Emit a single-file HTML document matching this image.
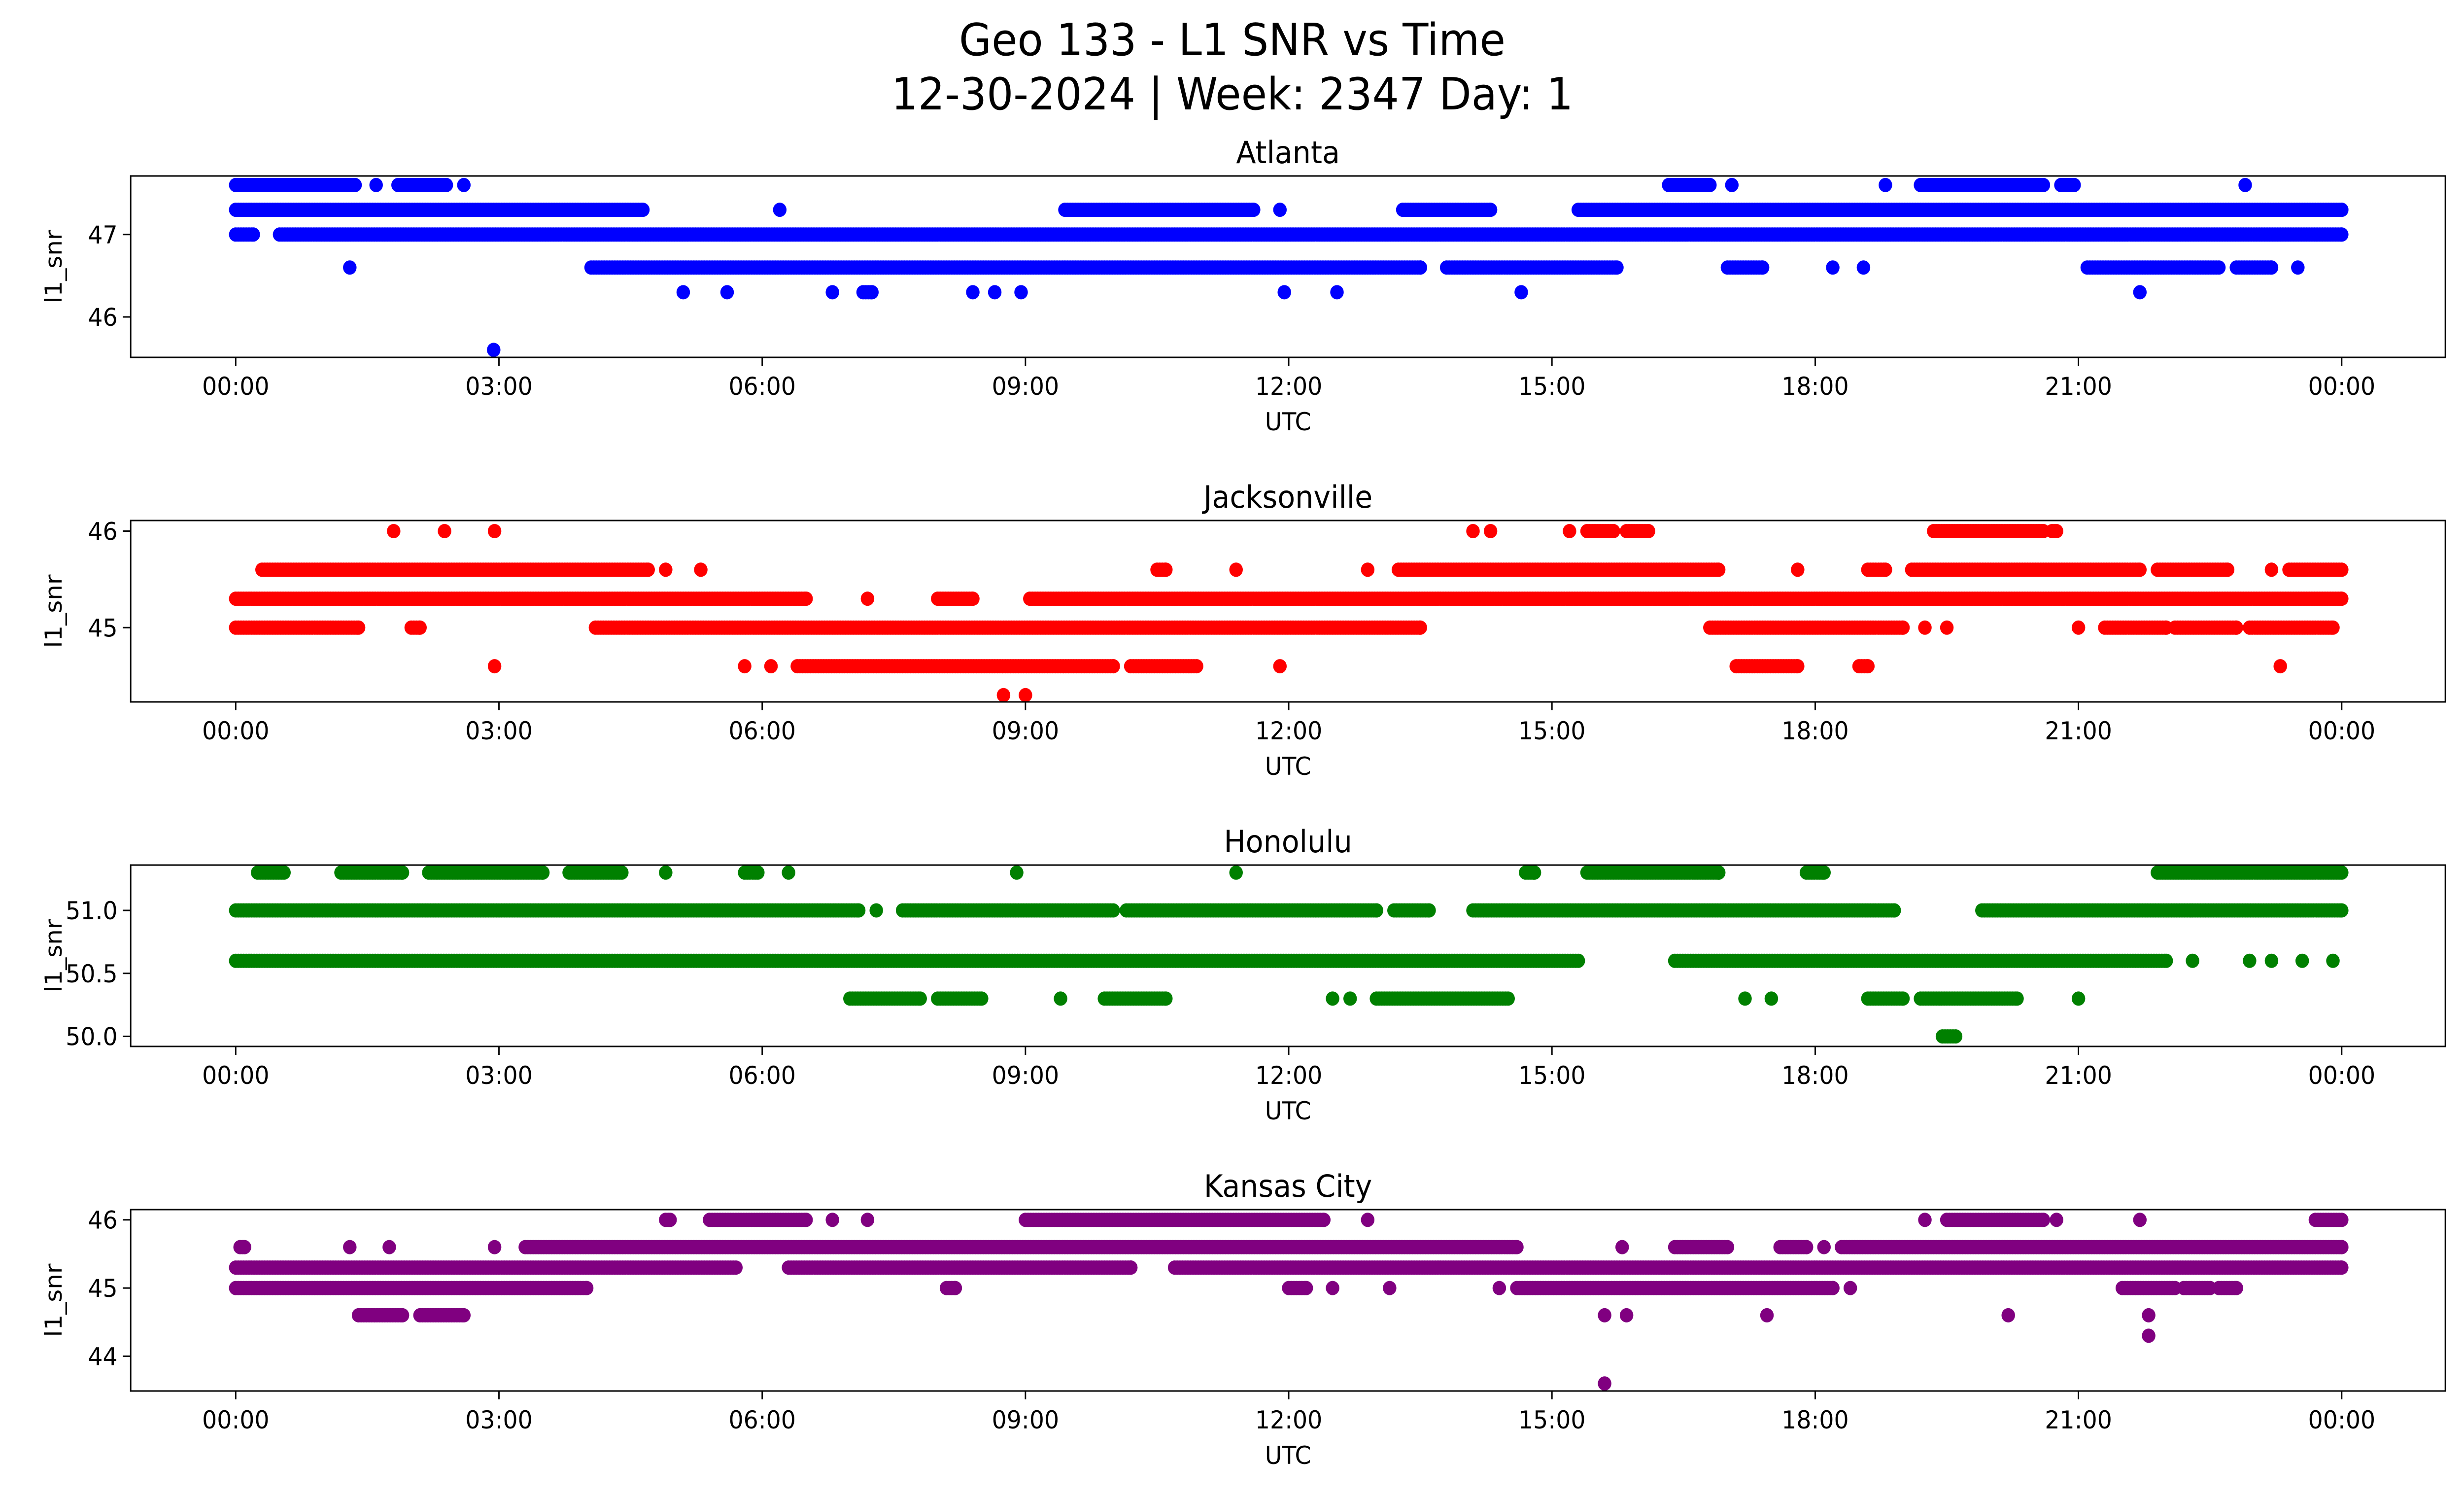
<!DOCTYPE html>
<html><head><meta charset="utf-8"><style>
html,body{margin:0;padding:0;background:#fff;overflow:hidden;width:100vw;height:100vh;}
svg{display:block;font-family:"DejaVu Sans","Liberation Sans",sans-serif;width:100vw;height:100vh;}
</style></head><body>
<svg id="fig" viewBox="0 0 5279 3033" preserveAspectRatio="none" xmlns="http://www.w3.org/2000/svg">
<rect width="5279" height="3033" fill="#fff"/>
<text x="2640" y="112" font-size="90" text-anchor="middle">Geo 133 - L1 SNR vs Time</text>
<text x="2640" y="222" font-size="90" text-anchor="middle">12-30-2024 | Week: 2347 Day: 1</text>
<g id="plots"></g>
</svg>
<script>
// ---- data: runs [value, startHour, endHour]; single points have start==end ----
const stations = ["Atlanta","Jacksonville","Honolulu","Kansas City"];
const colors = ["#0000ff","#ff0000","#008000","#800080"];
const xTickLabels = ["00:00","03:00","06:00","09:00","12:00","15:00","18:00","21:00","00:00"];
const xTickHours = [0,3,6,9,12,15,18,21,24];
const atlantaYTicks = [46,47];
const jacksonvilleYTicks = [45,46];
const honoluluYTicks = [50.0,50.5,51.0];
const kansasYTicks = [44,45,46];
const atlantaRange = [45.51,47.71];
const jacksonvilleRange = [44.23,46.11];
const honoluluRange = [49.92,51.36];
const kansasRange = [43.49,46.15];
const atlantaRuns = [
 [47.6,0,1.36],[47.6,1.6,1.6],[47.6,1.85,2.4],[47.6,2.6,2.6],[47.6,16.33,16.8],[47.6,17.05,17.05],[47.6,18.8,18.8],[47.6,19.2,20.6],[47.6,20.8,20.95],[47.6,22.9,22.9],
 [47.3,0,4.64],[47.3,6.2,6.2],[47.3,9.45,11.6],[47.3,11.9,11.9],[47.3,13.3,14.3],[47.3,15.3,24],
 [47.0,0,0.2],[47.0,0.5,24],
 [46.6,1.3,1.3],[46.6,4.05,13.5],[46.6,13.8,15.74],[46.6,17.0,17.4],[46.6,18.2,18.2],[46.6,18.55,18.55],[46.6,21.1,22.6],[46.6,22.8,23.2],[46.6,23.5,23.5],
 [46.3,5.1,5.1],[46.3,5.6,5.6],[46.3,6.8,6.8],[46.3,7.15,7.25],[46.3,8.4,8.4],[46.3,8.65,8.65],[46.3,8.95,8.95],[46.3,11.95,11.95],[46.3,12.55,12.55],[46.3,14.65,14.65],[46.3,21.7,21.7],
 [45.6,2.94,2.94]
];
const jacksonvilleRuns = [
 [46.0,1.8,1.8],[46.0,2.38,2.38],[46.0,2.95,2.95],[46.0,14.1,14.1],[46.0,14.3,14.3],[46.0,15.2,15.2],[46.0,15.4,15.7],[46.0,15.85,16.1],[46.0,19.35,20.6],[46.0,20.7,20.75],
 [45.6,0.3,4.7],[45.6,4.9,4.9],[45.6,5.3,5.3],[45.6,10.5,10.6],[45.6,11.4,11.4],[45.6,12.9,12.9],[45.6,13.25,16.9],[45.6,17.8,17.8],[45.6,18.6,18.8],[45.6,19.1,21.7],[45.6,21.9,22.7],[45.6,23.2,23.2],[45.6,23.4,24],
 [45.3,0,6.5],[45.3,7.2,7.2],[45.3,8.0,8.4],[45.3,9.05,24],
 [45.0,0,1.4],[45.0,2.0,2.1],[45.0,4.1,13.5],[45.0,16.8,19.0],[45.0,19.25,19.25],[45.0,19.5,19.5],[45.0,21.0,21.0],[45.0,21.3,22.0],[45.0,22.1,22.8],[45.0,22.95,23.9],
 [44.6,2.95,2.95],[44.6,5.8,5.8],[44.6,6.1,6.1],[44.6,6.4,10.0],[44.6,10.2,10.95],[44.6,11.9,11.9],[44.6,17.1,17.8],[44.6,18.5,18.6],[44.6,23.3,23.3],
 [44.3,8.75,8.75],[44.3,9.0,9.0]
];
const honoluluRuns = [
 [51.3,0.25,0.55],[51.3,1.2,1.9],[51.3,2.2,3.5],[51.3,3.8,4.4],[51.3,4.9,4.9],[51.3,5.8,5.95],[51.3,6.3,6.3],[51.3,8.9,8.9],[51.3,11.4,11.4],[51.3,14.7,14.8],[51.3,15.4,16.9],[51.3,17.9,18.1],[51.3,21.9,24],
 [51.0,0,7.1],[51.0,7.3,7.3],[51.0,7.6,10.0],[51.0,10.15,13.0],[51.0,13.2,13.6],[51.0,14.1,18.9],[51.0,19.9,24],
 [50.6,0,15.3],[50.6,16.4,22.0],[50.6,22.3,22.3],[50.6,22.95,22.95],[50.6,23.2,23.2],[50.6,23.55,23.55],[50.6,23.9,23.9],
 [50.3,7.0,7.8],[50.3,8.0,8.5],[50.3,9.4,9.4],[50.3,9.9,10.6],[50.3,12.5,12.5],[50.3,12.7,12.7],[50.3,13.0,14.5],[50.3,17.2,17.2],[50.3,17.5,17.5],[50.3,18.6,19.0],[50.3,19.2,20.3],[50.3,21.0,21.0],
 [50.0,19.45,19.6]
];
const kansasRuns = [
 [46.0,4.9,4.95],[46.0,5.4,6.5],[46.0,6.8,6.8],[46.0,7.2,7.2],[46.0,9.0,12.4],[46.0,12.9,12.9],[46.0,19.25,19.25],[46.0,19.5,20.6],[46.0,20.75,20.75],[46.0,21.7,21.7],[46.0,23.7,24],
 [45.6,0.05,0.1],[45.6,1.3,1.3],[45.6,1.75,1.75],[45.6,2.95,2.95],[45.6,3.3,14.6],[45.6,15.8,15.8],[45.6,16.4,17.0],[45.6,17.6,17.9],[45.6,18.1,18.1],[45.6,18.3,24],
 [45.3,0,5.7],[45.3,6.3,10.2],[45.3,10.7,24],
 [45.0,0,4.0],[45.0,8.1,8.2],[45.0,12.0,12.2],[45.0,12.5,12.5],[45.0,13.15,13.15],[45.0,14.4,14.4],[45.0,14.6,18.2],[45.0,18.4,18.4],[45.0,21.5,22.1],[45.0,22.2,22.5],[45.0,22.6,22.8],
 [44.6,1.4,1.9],[44.6,2.1,2.6],[44.6,15.6,15.6],[44.6,15.85,15.85],[44.6,17.45,17.45],[44.6,20.2,20.2],[44.6,21.8,21.8],
 [44.3,21.8,21.8],
 [43.6,15.6,15.6]
];
const allRuns = [atlantaRuns, jacksonvilleRuns, honoluluRuns, kansasRuns];
const allRanges = [atlantaRange, jacksonvilleRange, honoluluRange, kansasRange];
const allYTicks = [atlantaYTicks, jacksonvilleYTicks, honoluluYTicks, kansasYTicks];
const yTickFmt = [0,0,1,0];

const NS = "http://www.w3.org/2000/svg";
const L = 280, R = 5239, H = 368, tops = [357,1056,1755,2454];
const X0 = 505, X1 = 5017;
const xs = h => X0 + (X1 - X0) * h / 24;
const plots = document.getElementById('plots');
function mk(tag, attrs, parent){ const e=document.createElementNS(NS,tag); for(const k in attrs) e.setAttribute(k,attrs[k]); parent.appendChild(e); return e; }
const slug = s => s.toLowerCase().replace(/\s+/g,'-');

stations.forEach((name, i) => {
  const top = tops[i], bot = top + H;
  const [lo, hi] = allRanges[i];
  const ys = v => bot - (v - lo) / (hi - lo) * H;
  const g = mk('g', {}, plots);
  
  
  const t = mk('text', {x:(L+R)/2, y: top-26, 'font-size':62, 'text-anchor':'middle'}, g);
  t.textContent = name;
  
  
  const pts = mk('g', {fill: colors[i]}, g);
  
  
  allRuns[i].forEach(([v, s, e]) => {
    const step = 0.03;
    for (let h = s; h <= e + 1e-9; h += step) {
      const c = mk('circle', {cx: xs(h).toFixed(1), cy: ys(v).toFixed(1), r: 14.5}, pts);
      
      
    }
    if ((e - s) % step > 0.005) {
      const c = mk('circle', {cx: xs(e).toFixed(1), cy: ys(v).toFixed(1), r: 14.5}, pts);
      
      
    }
  });
  const frame = mk('rect', {x:L, y:top, width:R-L, height:H, fill:'none', stroke:'#000', 'stroke-width':3}, g);
  
  
  xTickHours.forEach((h, k) => {
    mk('line', {x1:xs(h), x2:xs(h), y1:bot, y2:bot+17, stroke:'#000', 'stroke-width':3}, g);
    const tl = mk('text', {x:xs(h), y:bot+76, 'font-size':50, 'text-anchor':'middle'}, g);
    tl.textContent = xTickLabels[k];
    
    
  });
  allYTicks[i].forEach(v => {
    mk('line', {x1:L-17, x2:L, y1:ys(v), y2:ys(v), stroke:'#000', 'stroke-width':3}, g);
    const tl = mk('text', {x:L-28, y:ys(v)+18, 'font-size':50, 'text-anchor':'end'}, g);
    tl.textContent = v.toFixed(yTickFmt[i]);
    
    
  });
  const xl = mk('text', {x:(L+R)/2, y:bot+148, 'font-size':50, 'text-anchor':'middle'}, g);
  xl.textContent = 'UTC';
  
  
  const cy = top + H/2;
  const yl = mk('text', {x:0, y:0, 'font-size':50, 'text-anchor':'middle', transform:`translate(132 ${cy}) rotate(-90)`}, g);
  yl.textContent = 'l1_snr';
  
  
});
</script>
</body></html>
